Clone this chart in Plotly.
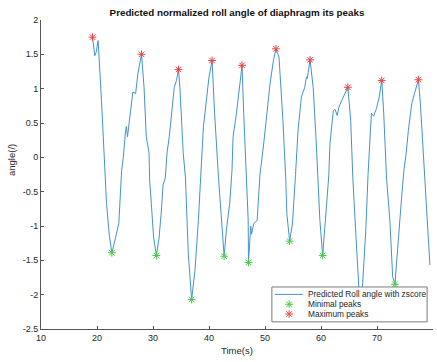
import plotly.graph_objects as go

# ---- data ----
time_s = [19.2, 19.6, 19.85, 20.2, 20.8, 21.4, 21.7, 22.2, 22.65, 23.2, 23.9, 24.4, 24.7, 25.1, 25.25,
          25.45, 25.6, 26.0, 26.4, 26.9, 27.3, 27.95, 28.4, 28.8, 29.3, 29.4, 29.7, 30.1, 30.6, 31.1,
          31.5, 31.75, 31.8, 32.2, 32.5, 32.9, 33.3, 33.8, 34.2, 34.55, 34.8, 35.4, 35.8, 36.3, 36.9,
          37.5, 38.1, 38.6, 39.0, 39.6, 40.0, 40.55, 41.0, 41.7, 42.2, 42.7, 43.1, 43.7, 44.1, 44.3,
          44.9, 45.4, 45.9, 46.2, 46.65, 47.0, 47.05, 47.3, 47.45, 47.6, 48.0, 48.6, 49.1, 49.7, 50.3,
          50.9, 51.5, 51.95, 52.5, 53.2, 53.7, 53.9, 54.4, 54.9, 55.45, 55.9, 56.5, 57.1, 57.4, 57.55,
          58.05, 58.6, 59.1, 59.4, 59.8, 60.3, 60.7, 61.1, 61.4, 61.6, 62.2, 62.5, 62.9, 63.2, 63.7,
          64.25, 64.8, 65.3, 65.7, 66.25, 66.7, 67.0, 67.4, 68.0, 68.4, 68.7, 69.0, 69.4, 69.9, 70.4,
          70.85, 71.2, 71.7, 72.3, 72.8, 73.2, 73.8, 74.4, 74.8, 75.2, 75.6, 76.2, 76.7, 77.4, 77.75,
          78.3, 78.6, 79.0, 79.45]
angle = [1.75, 1.48, 1.53, 1.70, 0.83, -0.33, -0.67, -1.14, -1.39, -1.21, -0.96, -0.19, 0.0, 0.39, 0.45,
         0.30, 0.42, 0.68, 0.95, 0.93, 1.22, 1.50, 1.02, 0.30, 0.06, -0.33, -0.67, -1.16, -1.43, -1.16,
         -0.77, -0.45, -0.40, -0.30, 0.06, 0.30, 0.59, 1.02, 1.12, 1.28, 1.02, 0.06, -0.30, -1.40, -2.07,
         -1.64, -0.92, -0.25, 0.44, 0.88, 1.17, 1.41, 0.64, -0.30, -0.82, -1.44, -1.06, -0.67, -0.20, 0.30,
         0.64, 1.02, 1.34, 0.64, -0.30, -0.92, -1.53, -1.06, -1.00, -1.12, -0.96, -0.92, -0.25, 0.15, 0.64,
         1.07, 1.41, 1.58, 1.46, 0.54, -0.30, -0.82, -1.22, -0.97, -0.25, 0.39, 0.88, 1.02, 1.17, 1.15,
         1.42, 1.02, 0.30, -0.30, -0.92, -1.43, -1.06, -0.58, -0.25, 0.20, 0.68, 0.70, 0.61, 0.73, 0.83,
         0.93, 1.02, 0.54, -0.33, -1.16, -1.89, -2.25, -1.89, -1.06, -0.25, 0.30, 0.64, 0.60, 0.71, 0.88,
         1.12, 0.64, -0.30, -0.92, -1.74, -1.85, -1.16, -0.58, -0.19, 0.05, 0.39, 0.78, 0.93, 1.13, 0.78,
         0.05, -0.33, -0.87, -1.57]

min_t = [22.65, 30.6, 36.9, 42.7, 47.05, 54.4, 60.3, 67.0, 73.2]
min_v = [-1.39, -1.43, -2.07, -1.44, -1.53, -1.22, -1.43, -2.25, -1.85]
max_t = [19.2, 27.95, 34.55, 40.55, 45.9, 51.95, 58.05, 64.8, 70.85, 77.4]
max_v = [1.75, 1.50, 1.28, 1.41, 1.34, 1.58, 1.42, 1.02, 1.12, 1.13]

x_ticks = [10, 20, 30, 40, 50, 60, 70, 80]
y_ticks = [-2.5, -2, -1.5, -1, -0.5, 0, 0.5, 1, 1.5, 2]
y_tick_text = ["-2.5", "-2", "-1.5", "-1", "-0.5", "0", "0.5", "1", "1.5", "2"]

series_names = ["Predicted Roll angle with zscore", "Minimal peaks", "Maximum peaks"]

# ---- style ----
LINE_C = "#4592cc"
GREEN = "#44cc44"
RED = "#ee4444"
AX_C = "#555555"
TXT_C = "#262626"
FONT = "Liberation Sans, Arial, Helvetica, sans-serif"


def star(color):
    return dict(symbol="asterisk-open", size=6.5, color=color, line=dict(color=color, width=1))


fig = go.Figure()
fig.add_trace(go.Scatter(x=time_s, y=angle, mode="lines", name=series_names[0],
                         line=dict(color=LINE_C, width=1), showlegend=False))
fig.add_trace(go.Scatter(x=min_t, y=min_v, mode="markers", name=series_names[1], showlegend=False,
                         marker=star(GREEN)))
fig.add_trace(go.Scatter(x=max_t, y=max_v, mode="markers", name=series_names[2], showlegend=False,
                         marker=star(RED)))

# ---- legend drawn on an overlay axis (plot-area fraction coordinates) ----
bx0, bx1, by0, by1 = 0.589, 0.985, 0.023, 0.136
fig.add_trace(go.Scatter(x=[bx0, bx1, bx1, bx0, bx0], y=[by0, by0, by1, by1, by0],
                         mode="lines", fill="toself", fillcolor="white",
                         line=dict(color="#7a7a7a", width=1), xaxis="x2", yaxis="y2",
                         showlegend=False, hoverinfo="skip"))
row_y = [0.112, 0.080, 0.0485]
fig.add_trace(go.Scatter(x=[0.597, 0.668], y=[row_y[0], row_y[0]], mode="lines",
                         line=dict(color=LINE_C, width=1), xaxis="x2", yaxis="y2",
                         showlegend=False, hoverinfo="skip"))
fig.add_trace(go.Scatter(x=[0.633], y=[row_y[1]], mode="markers", xaxis="x2", yaxis="y2",
                         marker=star(GREEN), showlegend=False, hoverinfo="skip"))
fig.add_trace(go.Scatter(x=[0.633], y=[row_y[2]], mode="markers", xaxis="x2", yaxis="y2",
                         marker=star(RED), showlegend=False, hoverinfo="skip"))
for name, yy in zip(series_names, row_y):
    fig.add_annotation(x=0.675, y=yy, xref="paper", yref="paper", text=name, showarrow=False,
                       xanchor="left", yanchor="middle", font=dict(family=FONT, size=8.3, color=TXT_C))

# ---- axis titles ----
fig.add_annotation(x=0.5, y=(329 - 350) / 309, xref="paper", yref="paper", text="Time(s)",
                   showarrow=False, xanchor="center", yanchor="middle",
                   font=dict(family=FONT, size=9.5, color=TXT_C))
fig.add_annotation(x=(12 - 41) / 392, y=(329 - 160) / 309, xref="paper", yref="paper",
                   text="angle(/)", showarrow=False, textangle=-90, xanchor="center", yanchor="middle",
                   font=dict(family=FONT, size=9.5, color=TXT_C))

fig.update_layout(
    width=437, height=362,
    margin=dict(l=41, r=4, t=20, b=33, pad=0),
    paper_bgcolor="white", plot_bgcolor="white",
    font=dict(family=FONT, size=9, color=TXT_C),
    title=dict(text="<b>Predicted normalized roll angle of diaphragm its peaks</b>",
               x=237 / 437, xanchor="center", y=1 - 12.5 / 362, yanchor="middle",
               font=dict(family=FONT, size=9.8, color="#111111")),
    xaxis=dict(range=[10, 80], tickvals=x_ticks, ticks="inside", ticklen=3, tickcolor=AX_C,
               showline=True, linecolor=AX_C, linewidth=1, showgrid=False, zeroline=False,
               tickfont=dict(family=FONT, size=9, color=TXT_C)),
    yaxis=dict(range=[-2.5, 2], tickvals=y_ticks, ticktext=y_tick_text, ticks="inside", ticklen=3,
               tickcolor=AX_C, showline=True, linecolor=AX_C, linewidth=1, showgrid=False,
               zeroline=False, tickfont=dict(family=FONT, size=9, color=TXT_C)),
    xaxis2=dict(overlaying="x", range=[0, 1], visible=False, fixedrange=True),
    yaxis2=dict(overlaying="y", range=[0, 1], visible=False, fixedrange=True),
)

fig.write_html("out.html")
